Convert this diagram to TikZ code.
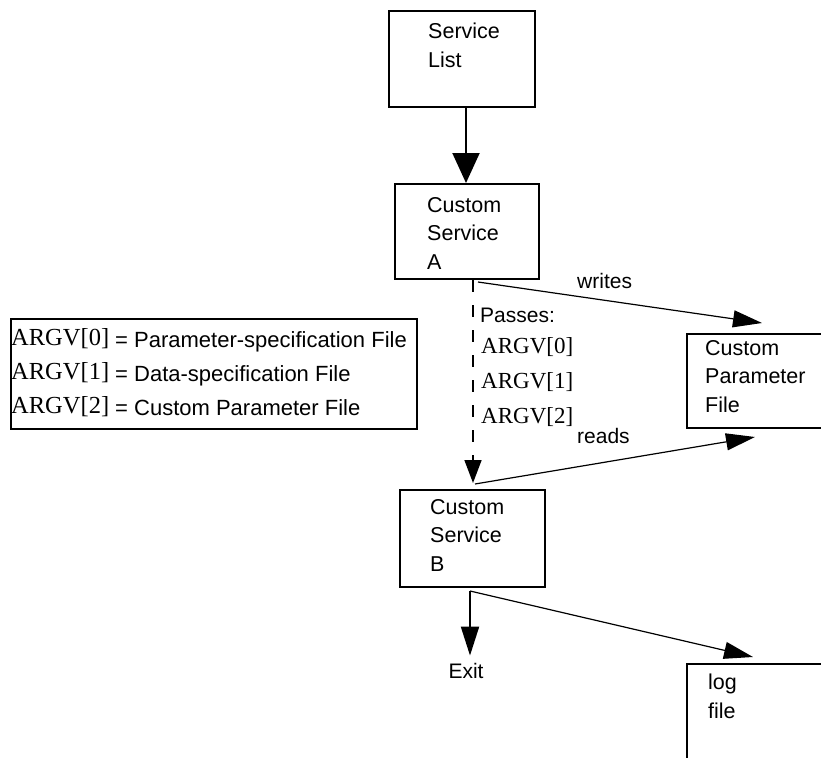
\documentclass[tikz,border=0pt]{standalone}
\usepackage{fontspec}
\setmainfont{Liberation Serif}
\setsansfont{Liberation Sans}
\usetikzlibrary{arrows.meta, positioning}

\tikzset{
  svcbox/.style={draw, line width=2pt, anchor=north west, inner sep=0pt},
  boxtext/.style={font=\sffamily\fontsize{21.5}{28.5}\selectfont, align=left, anchor=north west, inner sep=0pt},
  argvtext/.style={font=\rmfamily\fontsize{23}{28}\selectfont, anchor=base west, inner sep=0pt},
  labeltext/.style={font=\sffamily\fontsize{21}{28}\selectfont, anchor=base west, inner sep=0pt},
  mainarrow/.style={-{Triangle[length=29pt, width=18pt]}, line width=2pt},
  thinarrow/.style={-{Triangle[length=29pt, width=17pt]}, line width=1.2pt},
  passline/.style={-{Triangle[length=23pt, width=17pt]}, line width=1.6pt, dash pattern=on 12pt off 13pt}
}

\begin{document}
\begin{tikzpicture}[x=1pt, y=-1pt]

    \clip (0,0) rectangle (821,757);

    % Boxes
    \node[svcbox, minimum width=146pt, minimum height=96pt] (list) at (388,10) {};
    \node[svcbox, minimum width=144pt, minimum height=95pt] (svca) at (394,183) {};
    \node[svcbox, minimum width=145pt, minimum height=97pt] (svcb) at (399,489) {};
    \node[svcbox, minimum width=170pt, minimum height=94pt] (param) at (686,333) {};
    \node[svcbox, minimum width=170pt, minimum height=130pt] (logf) at (686,663) {};
    \node[svcbox, minimum width=406pt, minimum height=110pt] (legend) at (10,318) {};

    % Box texts
    \node[boxtext] (listtxt) at (428,23) {Service\\List};
    \node[boxtext] (svcatxt) at (427,197) {Custom\\Service\\A};
    \node[boxtext] (svcbtxt) at (430,499) {Custom\\Service\\B};
    \node[boxtext] (paramtxt) at (705,340) {Custom\\Parameter\\File};
    \node[boxtext] (logtxt) at (708,674) {log\\file};

    % Legend
    \foreach \i/\desc in {0/Parameter-specification File, 1/Data-specification File, 2/Custom Parameter File} {
        \node[argvtext, font=\rmfamily\fontsize{24.5}{28}\selectfont] (argv\i) at (11,{345+34*\i}) {ARGV[\i]};
        \node[labeltext, font=\sffamily\fontsize{22}{28}\selectfont] (def\i) at (115,{347+34*\i}) {= \desc};
    }

    % Passed arguments
    \node[labeltext] (passes) at (480,322) {Passes:};
    \foreach \i in {0,1,2} {
        \node[argvtext] (pass\i) at (481,{353+35*\i}) {ARGV[\i]};
    }

    % Connector end points
    \coordinate (aout) at (473,280);
    \coordinate (bin) at (473,483);
    \coordinate (wfrom) at (478,282);
    \coordinate (wto) at (762,323);
    \coordinate (rfrom) at (475,484);
    \coordinate (rto) at (755,437);
    \coordinate (bout) at (470,591);
    \coordinate (logto) at (753,657);

    % Connectors
    \draw[mainarrow, -{Triangle[length=30pt, width=27pt]}] ([xshift=4pt]list.south) -- ([xshift=4pt]list.south |- svca.north);
    \draw[passline] (aout) -- (bin);
    \draw[thinarrow] (wfrom) -- (wto);
    \node[labeltext] (writes) at (577,288) {writes};
    \draw[thinarrow] (rfrom) -- (rto);
    \node[labeltext] (reads) at (577,443) {reads};
    \node[labeltext, anchor=base] (exit) at (466,678) {Exit};
    \draw[mainarrow] (bout) -- ([yshift=7pt]bout |- exit.north);
    \draw[thinarrow] (bout) -- (logto);

\end{tikzpicture}
\end{document}
